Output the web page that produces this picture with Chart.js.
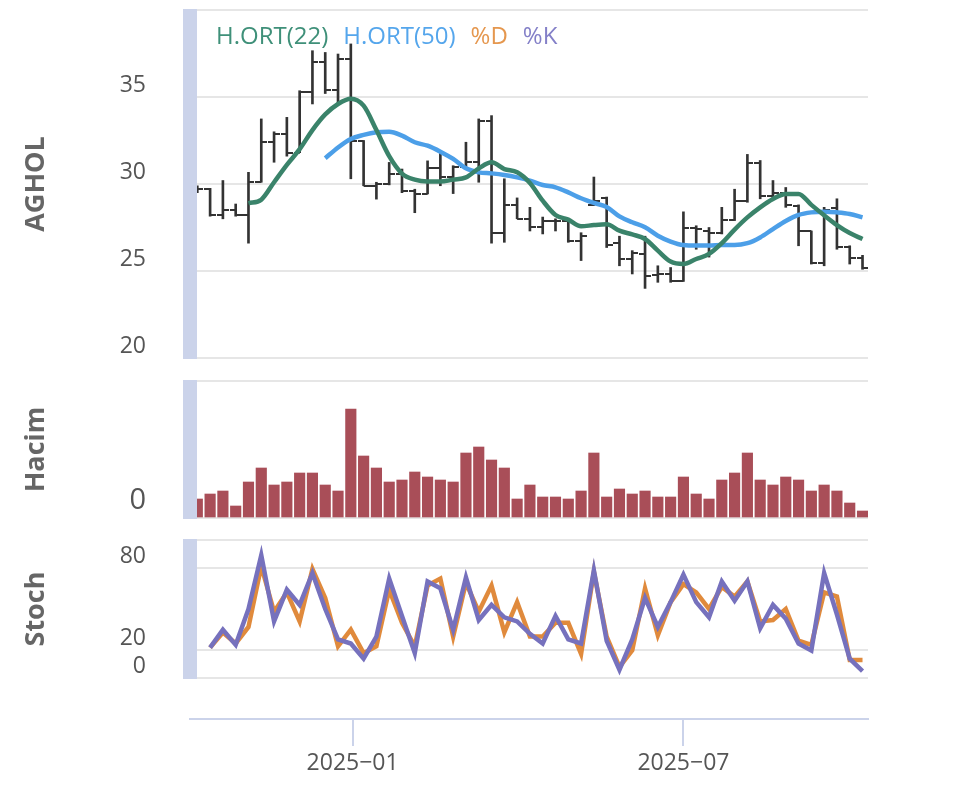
<!DOCTYPE html>
<html><head><meta charset="utf-8">
<script src="https://cdn.jsdelivr.net/npm/chart.js@4.4.1/dist/chart.umd.min.js"></script>
<style>
html,body{margin:0;padding:0;background:#fff}
body{width:960px;height:811px;overflow:hidden;position:relative}
canvas{position:absolute;left:0}
</style></head><body>
<canvas id="cPrice" width="960" height="370" style="top:0px"></canvas>
<canvas id="cVol" width="960" height="160" style="top:370px"></canvas>
<canvas id="cStoch" width="960" height="160" style="top:530px"></canvas>
<canvas id="cAxis" width="960" height="121" style="top:690px"></canvas>
<canvas id="cLegend" width="960" height="200" style="top:0px"></canvas>
<script>
// ---------- data ----------
const dates = ['2024-10-08','2024-10-15','2024-10-22','2024-10-29','2024-11-05','2024-11-12','2024-11-19','2024-11-26',
 '2024-12-03','2024-12-10','2024-12-17','2024-12-24','2024-12-31','2025-01-07','2025-01-14','2025-01-21','2025-01-28',
 '2025-02-04','2025-02-11','2025-02-18','2025-02-25','2025-03-04','2025-03-11','2025-03-18','2025-03-25','2025-04-01',
 '2025-04-08','2025-04-15','2025-04-22','2025-04-29','2025-05-06','2025-05-13','2025-05-20','2025-05-27','2025-06-03',
 '2025-06-10','2025-06-17','2025-06-24','2025-07-01','2025-07-08','2025-07-15','2025-07-22','2025-07-29','2025-08-05',
 '2025-08-12','2025-08-19','2025-08-26','2025-09-02','2025-09-09','2025-09-16','2025-09-23','2025-09-30','2025-10-07'];

const openP  = [29.8,29.7,28.2,28.5,28.2,30.1,32.4,32.9,31.8,35.3,37.0,35.4,37.2,32.5,29.9,30.0,30.6,29.6,29.45,30.9,30.4,30.95,31.25,33.6,27.2,28.8,28.0,27.55,27.9,27.85,26.75,28.8,29.2,26.6,25.7,26.0,24.75,24.85,24.45,27.5,27.3,27.2,27.95,29.0,31.2,29.3,29.5,28.75,27.3,25.45,28.6,26.4,25.75];
const highP  = [29.9,29.75,30.2,28.85,30.67,33.74,33.0,33.83,35.36,37.66,37.56,37.47,38.05,32.5,30.1,31.24,30.86,29.7,31.33,31.82,31.05,32.4,33.74,33.93,30.3,29.2,28.66,28.1,28.0,27.9,27.2,30.4,29.25,27.0,26.17,27.0,25.3,25.2,28.4,27.6,27.5,28.66,29.7,31.7,31.35,30.2,29.8,28.8,27.3,28.66,29.15,26.45,25.9];
const lowP   = [29.5,28.15,28.0,28.15,26.6,30.1,31.25,31.6,31.8,34.6,35.2,34.6,30.3,29.9,29.13,29.95,29.5,28.35,29.43,29.9,29.45,30.95,30.1,26.6,26.65,28.0,27.3,27.13,27.3,26.65,25.6,28.76,26.35,25.3,24.83,24.0,24.35,24.35,24.4,26.25,25.8,27.13,27.9,28.95,29.15,29.2,28.66,26.45,25.4,25.3,26.25,25.4,25.1];
const closeP = [29.7,28.2,28.5,28.2,30.1,32.4,32.9,31.8,35.3,37.0,35.4,37.2,32.5,29.9,30.0,30.6,29.6,29.45,30.9,30.4,30.95,31.25,33.6,27.2,28.8,28.0,27.55,27.9,27.85,26.75,27.0,29.0,26.5,25.7,26.05,24.7,24.85,24.45,27.5,27.4,27.2,27.95,29.0,31.2,29.3,29.5,28.8,27.3,25.45,28.5,26.4,25.75,25.15];

const ma22 = [null,null,null,null,28.89,29.1,30.1,31.1,32.0,33.1,34.0,34.6,34.9,34.5,33.1,31.6,30.6,30.25,30.14,30.14,30.25,30.38,30.9,31.25,30.86,30.67,30.06,29.04,28.22,27.95,27.57,27.64,27.68,27.32,27.1,26.84,26.17,25.54,25.4,25.69,25.98,26.6,27.38,28.08,28.66,29.14,29.43,29.43,28.8,28.2,27.64,27.18,26.84];
const ma50 = [null,null,null,null,null,null,null,null,null,null,31.48,32.1,32.59,32.82,32.97,33.0,32.78,32.4,32.2,31.86,31.44,30.9,30.67,30.61,30.52,30.38,30.19,29.94,29.81,29.52,29.18,28.91,28.68,28.14,27.8,27.51,27.03,26.69,26.49,26.46,26.46,26.49,26.49,26.6,26.93,27.41,27.87,28.22,28.37,28.41,28.37,28.28,28.08];

const volume = [1.9,2.4,2.7,1.2,3.6,5.0,3.3,3.6,4.5,4.5,3.3,2.7,10.9,6.2,5.0,3.6,3.8,4.6,4.1,3.8,3.6,6.5,7.1,5.8,5.0,1.9,3.3,2.1,2.1,1.9,2.7,6.5,2.1,2.9,2.4,2.7,2.1,2.1,4.1,2.4,1.9,3.8,4.5,6.5,3.8,3.3,4.1,3.8,2.7,3.3,2.7,1.5,0.7];

const stochK = [null,22,35,24,50,89,41,64,53,76,50,28,25,14,30,72,45,18,70,65,35,73,42,53,44,41,32,25,45,28,25,78,27,6,28,58,37,55,75,55,44,70,56,70,36,53,43,25,20,76,46,14,5];
const stochD = [null,22,33,25,37,81,48,62,41,79,58,23,35,18,23,64,40,23,67,72,30,69,48,67,33,55,30,30,40,40,17.5,77,30,8,20,65,31,55,68,62,50,66,59,70,41,42,50,27,24,62,59,13,13];

const priceTicks = [20,25,30,35,40];
const priceTickLabels = ['20','25','30','35',''];
const volTicks = [0,13.7];
const volTickLabels = ['0',''];
const stochTicks = [0,20,80,100];
const stochTickLabels = ['0','20','80',''];
const xTickDates = ['2025-01-01','2025-07-01'];
const xTickLabels = ['2025\u221201','2025\u221207'];

const legendTexts = ['H.ORT(22)','H.ORT(50)','%D','%K'];

// ---------- style ----------
const FONT = "'Open Sans','Noto Sans',sans-serif";
const C_MA22 = '#3a836a', C_MA50 = '#4c9fe8', C_D = '#e08a3c', C_K = '#7671bd';
const C_BAR = '#333333', C_VOL = '#a94e58', C_BAND = '#cbd3ea', C_GRID = '#e6e6e6';
const legendColors = ['#3f9079', '#55a6ec', '#e5974e', '#8480c8'];

const day = s => { const p = s.split('-').map(Number); return (Date.UTC(p[0],p[1]-1,p[2]) - Date.UTC(2025,0,1)) / 864e5; };
const X = dates.map(day);
const X_MIN = -89, X_MAX = 282;
const pts = arr => X.map((x,i) => ({x, y: arr[i]}));

function tickImg(side){
  const c = document.createElement('canvas'); c.width = 12; c.height = 2;
  const g = c.getContext('2d'); g.fillStyle = C_BAR;
  g.fillRect(side < 0 ? 0 : 6, 0, 6, 2);
  return c;
}

// keeps the thick axis band from poking above the top grid line
const clipTop = {id:'clipTop',
  beforeDraw(c){ const a = c.chartArea; c.ctx.save(); c.ctx.beginPath(); c.ctx.rect(0, a.top - 1, c.width, c.height); c.ctx.clip(); },
  afterDraw(c){ c.ctx.restore(); }};

const xHidden = {type:'linear', min:X_MIN, max:X_MAX, display:false, offset:false};
function yScale(min, max, ticks, labels, title, tickSize, labelOffset){
  return {
    position:'left', min, max,
    afterBuildTicks: s => { s.ticks = ticks.map(v => ({value:v})); },
    afterFit: s => { s.width = 190; s.paddingTop = 0; s.paddingBottom = 0; },
    grid: {color:C_GRID, lineWidth:2, drawTicks:false},
    border: {color:C_BAND, width:14},
    ticks: {callback:(v,i) => labels[i], color:'#555', font:{family:FONT, size:tickSize},
            padding:44, labelOffset, autoSkip:false},
    title: {display:true, text:title, color:'#666', font:{family:FONT, size:27, weight:'bold'},
            padding:{top:20, bottom:0}}
  };
}
const base = {responsive:false, animation:false, events:[],
  plugins:{tooltip:{enabled:false}, legend:{display:false}}};
const CLIP = {left:-7, right:0, top:2, bottom:2};

// ---------- price ----------
new Chart(document.getElementById('cPrice'), {
  type:'line',
  data:{datasets:[
    {label:'H.ORT(22)', data:pts(ma22), borderColor:C_MA22, borderWidth:4.5, pointRadius:0, cubicInterpolationMode:'monotone', clip:CLIP},
    {label:'H.ORT(50)', data:pts(ma50), borderColor:C_MA50, borderWidth:4.5, pointRadius:0, cubicInterpolationMode:'monotone', clip:CLIP},
    {label:'open', data:pts(openP), showLine:false, pointStyle:tickImg(-1), pointRadius:3, pointHoverRadius:3, clip:CLIP},
    {label:'close', data:pts(closeP), showLine:false, pointStyle:tickImg(1), pointRadius:3, pointHoverRadius:3, clip:CLIP},
    {type:'bar', label:'range', data:X.map((x,i) => ({x, y:[lowP[i], highP[i]]})), backgroundColor:C_BAR,
     barThickness:2, borderWidth:0, grouped:false, clip:CLIP}
  ]},
  options:{...base,
    layout:{padding:{left:0, right:92, top:10, bottom:12}},
    scales:{x:xHidden, y:yScale(20, 40, priceTicks, priceTickLabels, 'AGHOL', 23, -11.5)}
  },
  plugins:[clipTop]
});

// ---------- legend (overlay over the price panel) ----------
new Chart(document.getElementById('cLegend'), {
  type:'line',
  data:{datasets:[]},
  options:{responsive:false, animation:false, events:[],
    layout:{padding:{left:201, right:0, top:22, bottom:0}},
    scales:{x:{display:false}, y:{display:false}},
    plugins:{tooltip:{enabled:false},
      legend:{display:true, position:'top', align:'start', onClick:null,
        labels:{boxWidth:0, boxHeight:24, padding:3, font:{family:FONT, size:24},
          generateLabels:() => legendTexts.map((t,i) => ({text:t, fontColor:legendColors[i],
            fillStyle:'rgba(0,0,0,0)', strokeStyle:'rgba(0,0,0,0)', lineWidth:0, hidden:false, datasetIndex:i}))}}}
  }
});

// ---------- volume ----------
new Chart(document.getElementById('cVol'), {
  type:'bar',
  data:{datasets:[{label:'Hacim', data:pts(volume), backgroundColor:C_VOL, barThickness:10.5, borderWidth:0, clip:CLIP}]},
  options:{...base,
    layout:{padding:{left:0, right:92, top:11, bottom:12}},
    scales:{x:xHidden, y:yScale(0, 13.7, volTicks, volTickLabels, 'Hacim', 29, -17)}
  },
  plugins:[clipTop]
});

// ---------- stochastic ----------
new Chart(document.getElementById('cStoch'), {
  type:'line',
  data:{datasets:[
    {label:'%K', data:pts(stochK), borderColor:C_K, borderWidth:4.5, pointRadius:0, tension:0, clip:CLIP},
    {label:'%D', data:pts(stochD), borderColor:C_D, borderWidth:4.5, pointRadius:0, tension:0, clip:CLIP}
  ]},
  options:{...base,
    layout:{padding:{left:0, right:92, top:10, bottom:12}},
    scales:{x:xHidden, y:yScale(0, 100, stochTicks, stochTickLabels, 'Stoch', 23, -11.5)}
  },
  plugins:[clipTop]
});

// ---------- shared date axis ----------
new Chart(document.getElementById('cAxis'), {
  type:'line',
  data:{datasets:[]},
  options:{...base,
    layout:{padding:{left:190, right:92, top:0, bottom:0}},
    scales:{
      x:{type:'linear', min:X_MIN, max:X_MAX, position:'bottom', offset:false,
        afterBuildTicks: s => { s.ticks = xTickDates.map(d => ({value:day(d)})); },
        afterFit: s => { s.height = 92; s.paddingLeft = 0; s.paddingRight = 0; },
        grid:{drawOnChartArea:false, drawTicks:true, tickLength:27, color:C_BAND, lineWidth:2},
        border:{color:C_BAND, width:2},
        ticks:{callback:(v,i) => xTickLabels[i], color:'#555', font:{family:FONT, size:23}, padding:4, maxRotation:0, autoSkip:false}
      },
      y:{display:false}
    }
  }
});
</script>
</body></html>
